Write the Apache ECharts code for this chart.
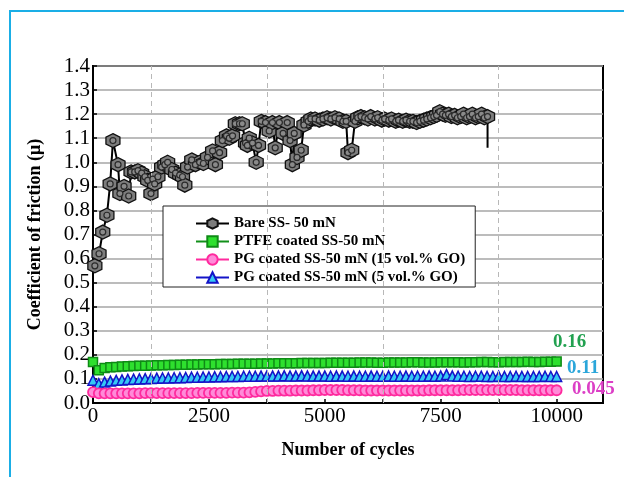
<!DOCTYPE html>
<html>
<head>
<meta charset="utf-8">
<script src="https://cdn.jsdelivr.net/npm/echarts@6/dist/echarts.min.js"></script>
<style>
  html, body { margin: 0; padding: 0; background: #ffffff; }
  #chart { width: 624px; height: 477px; }
</style>
</head>
<body>
<div id="chart"></div>
<script>
// Coefficient of friction vs. number of cycles (ball-on-disc, 50 mN)

const bareCycles = [
  40, 130, 210, 300, 370, 430, 540, 580, 670, 770,
  820, 900, 970, 1050, 1120, 1180, 1250, 1290, 1330, 1400,
  1480, 1550, 1610, 1700, 1780, 1870, 1930, 1980, 2040, 2130,
  2210, 2300, 2380, 2470, 2580, 2640, 2730, 2790, 2880, 2940,
  3010, 3070, 3160, 3220, 3290, 3330, 3370, 3440, 3520, 3570,
  3630, 3720, 3800, 3870, 3930, 4020, 4100, 4190, 4250, 4300,
  4340, 4400, 4490, 4550, 4640, 4700, 4790, 4880, 4960, 5050,
  5130, 5220, 5310, 5390, 5460, 5500, 5580, 5650, 5710, 5780,
  5860, 5930, 5990, 6080, 6140, 6230, 6290, 6380, 6440, 6530,
  6590, 6680, 6750, 6830, 6900, 6980, 7050, 7130, 7200, 7280,
  7350, 7410, 7480, 7540, 7600, 7670, 7730, 7800, 7860, 7930,
  7990, 8060, 8120, 8180, 8250, 8310, 8380, 8440, 8510, 8510
];
const bareCof = [
  0.57, 0.62, 0.71, 0.78, 0.91, 1.09, 0.99, 0.87, 0.90, 0.86,
  0.96, 0.96, 0.965, 0.955, 0.94, 0.925, 0.87, 0.93, 0.91, 0.94,
  0.98, 0.99, 1.00, 0.97, 0.955, 0.947, 0.94, 0.905, 0.98, 1.01,
  0.99, 1.00, 0.995, 1.02, 1.047, 0.99, 1.04, 1.09, 1.11, 1.10,
  1.11, 1.16, 1.16, 1.16, 1.08, 1.07, 1.10, 1.08, 1.00, 1.07,
  1.17, 1.165, 1.13, 1.165, 1.06, 1.165, 1.12, 1.165, 1.09, 0.99,
  1.12, 1.02, 1.05, 1.155, 1.17, 1.18, 1.18, 1.175, 1.18, 1.185,
  1.18, 1.185, 1.18, 1.17, 1.17, 1.04, 1.05, 1.17, 1.185, 1.19,
  1.185, 1.18, 1.19, 1.18, 1.185, 1.175, 1.18, 1.175, 1.18, 1.17,
  1.175, 1.17, 1.175, 1.17, 1.17, 1.165, 1.17, 1.175, 1.18, 1.185,
  1.19, 1.195, 1.21, 1.20, 1.195, 1.20, 1.19, 1.195, 1.185, 1.19,
  1.20, 1.185, 1.19, 1.20, 1.185, 1.19, 1.20, 1.185, 1.19, 1.06
];

const coatedCycles = [
  0, 125, 250, 375, 500, 625, 750, 875, 1000, 1125,
  1250, 1375, 1500, 1625, 1750, 1875, 2000, 2125, 2250, 2375,
  2500, 2625, 2750, 2875, 3000, 3125, 3250, 3375, 3500, 3625,
  3750, 3875, 4000, 4125, 4250, 4375, 4500, 4625, 4750, 4875,
  5000, 5125, 5250, 5375, 5500, 5625, 5750, 5875, 6000, 6125,
  6250, 6375, 6500, 6625, 6750, 6875, 7000, 7125, 7250, 7375,
  7500, 7625, 7750, 7875, 8000, 8125, 8250, 8375, 8500, 8625,
  8750, 8875, 9000, 9125, 9250, 9375, 9500, 9625, 9750, 9875,
  10000
];
const ptfeCof = [
  0.170, 0.136, 0.145, 0.148, 0.150, 0.152, 0.153, 0.154, 0.155, 0.155,
  0.156, 0.157, 0.157, 0.158, 0.158, 0.159, 0.159, 0.160, 0.160, 0.161,
  0.161, 0.161, 0.162, 0.162, 0.162, 0.163, 0.163, 0.163, 0.163, 0.164,
  0.164, 0.164, 0.165, 0.165, 0.165, 0.165, 0.166, 0.166, 0.166, 0.166,
  0.166, 0.167, 0.167, 0.167, 0.167, 0.167, 0.168, 0.168, 0.168, 0.167,
  0.167, 0.168, 0.168, 0.168, 0.168, 0.169, 0.169, 0.168, 0.168, 0.168,
  0.169, 0.169, 0.169, 0.169, 0.168, 0.169, 0.169, 0.170, 0.170, 0.169,
  0.169, 0.170, 0.170, 0.170, 0.170, 0.171, 0.170, 0.170, 0.171, 0.171,
  0.172
];
const pg15Cof = [
  0.045, 0.040, 0.040, 0.040, 0.040, 0.040, 0.040, 0.040, 0.040, 0.041,
  0.041, 0.041, 0.041, 0.041, 0.041, 0.041, 0.041, 0.041, 0.042, 0.042,
  0.042, 0.042, 0.042, 0.042, 0.043, 0.043, 0.043, 0.044, 0.046, 0.048,
  0.050, 0.050, 0.051, 0.051, 0.051, 0.052, 0.052, 0.052, 0.053, 0.053,
  0.054, 0.054, 0.054, 0.054, 0.053, 0.053, 0.053, 0.052, 0.052, 0.052,
  0.052, 0.052, 0.052, 0.052, 0.052, 0.052, 0.052, 0.052, 0.053, 0.053,
  0.053, 0.053, 0.053, 0.053, 0.054, 0.054, 0.054, 0.054, 0.054, 0.054,
  0.054, 0.054, 0.054, 0.054, 0.053, 0.053, 0.053, 0.053, 0.053, 0.053,
  0.053
];
const pg5Cof = [
  0.095, 0.080, 0.087, 0.091, 0.094, 0.096, 0.098, 0.099, 0.100, 0.101,
  0.102, 0.103, 0.104, 0.104, 0.105, 0.105, 0.106, 0.107, 0.107, 0.108,
  0.108, 0.109, 0.109, 0.110, 0.110, 0.110, 0.111, 0.111, 0.111, 0.112,
  0.112, 0.112, 0.112, 0.113, 0.112, 0.112, 0.113, 0.112, 0.112, 0.112,
  0.112, 0.111, 0.112, 0.112, 0.111, 0.112, 0.111, 0.111, 0.112, 0.111,
  0.111, 0.112, 0.111, 0.111, 0.112, 0.111, 0.111, 0.111, 0.112, 0.111,
  0.112, 0.118, 0.112, 0.111, 0.111, 0.110, 0.111, 0.111, 0.110, 0.110,
  0.111, 0.110, 0.110, 0.111, 0.110, 0.110, 0.110, 0.110, 0.111, 0.110,
  0.110
];

const seriesNames = [
  'Bare SS- 50 mN',
  'PTFE coated SS-50 mN',
  'PG coated SS-50 mN (15 vol.% GO)',
  'PG coated SS-50 mN (5 vol.% GO)'
];
const steadyLabels = ['0.16', '0.11', '0.045'];
const xGuideLines = [1250, 3750, 6250, 8750];

const FONT = '"Liberation Serif", "Times New Roman", serif';
const HEX = 'path://M50,2 L92,26 L92,74 L50,98 L8,74 L8,26 Z';

function pairs(xs, ys) { return xs.map((x, i) => [x, ys[i]]); }
// the run ends with a drop to its last reading, drawn without a marker
const lastBare = bareCycles.length - 1;

const chart = echarts.init(document.getElementById('chart'));
chart.setOption({
  backgroundColor: '#ffffff',
  animation: false,
  grid: {
    left: 93, right: 21, top: 66, bottom: 74,
    show: true, borderColor: '#000', borderWidth: 2, backgroundColor: 'transparent'
  },
  xAxis: {
    type: 'value', min: 0, max: 11000, interval: 1250,
    name: 'Number of cycles', nameLocation: 'middle', nameGap: 38,
    nameTextStyle: { fontFamily: FONT, fontSize: 18, fontWeight: 'bold', color: '#000' },
    axisLine: { show: true, lineStyle: { color: '#000', width: 2 } },
    axisTick: { show: true, inside: true, length: 4, lineStyle: { color: '#000', width: 1.5 } },
    axisLabel: {
      fontFamily: FONT, fontSize: 21, color: '#000', margin: 3,
      formatter: v => (v % 2500 === 0 ? String(v) : '')
    },
    splitLine: { show: false }
  },
  yAxis: {
    type: 'value', min: 0, max: 1.4, interval: 0.1,
    name: 'Coefficient of friction (\u03bc)', nameLocation: 'middle', nameGap: 49, nameRotate: 90,
    nameTextStyle: { fontFamily: FONT, fontSize: 18, fontWeight: 'bold', color: '#000' },
    axisLine: { show: true, lineStyle: { color: '#000', width: 2 } },
    axisTick: { show: true, inside: true, length: 4, lineStyle: { color: '#000', width: 1.5 } },
    axisLabel: { fontFamily: FONT, fontSize: 21, color: '#000', margin: 3, formatter: v => v.toFixed(1) },
    splitLine: { show: true, lineStyle: { color: '#a6a6a6', width: 1.5 } }
  },
  legend: {
    orient: 'vertical', left: 163, top: 206,
    padding: [10, 10, 2, 32], itemGap: 3, itemWidth: 33, itemHeight: 13,
    backgroundColor: '#ffffff', borderColor: '#222', borderWidth: 1,
    textStyle: { fontFamily: FONT, fontSize: 15, fontWeight: 'bold', color: '#000' },
    data: seriesNames
  },
  graphic: [
    { type: 'rect', shape: { x: 10, y: 11, width: 700, height: 600 },
      style: { fill: 'none', stroke: '#1aaee6', lineWidth: 2 }, silent: true, z: 100 },
    { type: 'text', left: 553, top: 333, silent: true,
      style: { text: steadyLabels[0], font: 'bold 19px ' + FONT, fill: '#22a150' } },
    { type: 'text', left: 567, top: 359, silent: true,
      style: { text: steadyLabels[1], font: 'bold 19px ' + FONT, fill: '#2aa6da' } },
    { type: 'text', left: 572, top: 380, silent: true,
      style: { text: steadyLabels[2], font: 'bold 19px ' + FONT, fill: '#dc3fc6' } }
  ],
  series: [
    {
      name: seriesNames[3], type: 'line', z: 3,
      data: pairs(coatedCycles, pg5Cof),
      symbol: 'triangle', symbolSize: 10,
      lineStyle: { color: '#1414c8', width: 2 },
      itemStyle: { color: '#36c8f4', borderColor: '#1414c8', borderWidth: 1.5 }
    },
    {
      name: seriesNames[2], type: 'line', z: 3,
      data: pairs(coatedCycles, pg15Cof),
      symbol: 'circle', symbolSize: 10,
      lineStyle: { color: '#ff2a9e', width: 2 },
      itemStyle: { color: '#ff8ad8', borderColor: '#ff2a9e', borderWidth: 1.8 }
    },
    {
      name: seriesNames[1], type: 'line', z: 3,
      data: pairs(coatedCycles, ptfeCof),
      symbol: 'rect', symbolSize: 9,
      lineStyle: { color: '#12901a', width: 2 },
      itemStyle: { color: '#2ee02e', borderColor: '#0f8a16', borderWidth: 1.5 }
    },
    {
      name: seriesNames[0], type: 'line', z: 4,
      data: pairs(bareCycles, bareCof),
      symbol: HEX,
      symbolSize: (v, p) => (p.dataIndex === lastBare ? 0 : 14),
      lineStyle: { color: '#000', width: 2 },
      itemStyle: { color: '#7d7d7d', borderColor: '#111', borderWidth: 1.3 },
      markLine: {
        silent: true, symbol: ['none', 'none'], label: { show: false },
        lineStyle: { color: '#b8b8b8', type: [5, 4], width: 1 },
        data: xGuideLines.map(x => ({ xAxis: x }))
      }
    },
    {
      // inner ring of each hexagonal marker
      name: seriesNames[0], type: 'line', z: 5,
      data: pairs(bareCycles, bareCof),
      symbol: 'circle',
      symbolSize: (v, p) => (p.dataIndex === lastBare ? 0 : 6),
      lineStyle: { width: 0, opacity: 0 },
      itemStyle: { color: '#8a8a8a', borderColor: '#2a2a2a', borderWidth: 1.2 }
    }
  ]
});
</script>
</body>
</html>
